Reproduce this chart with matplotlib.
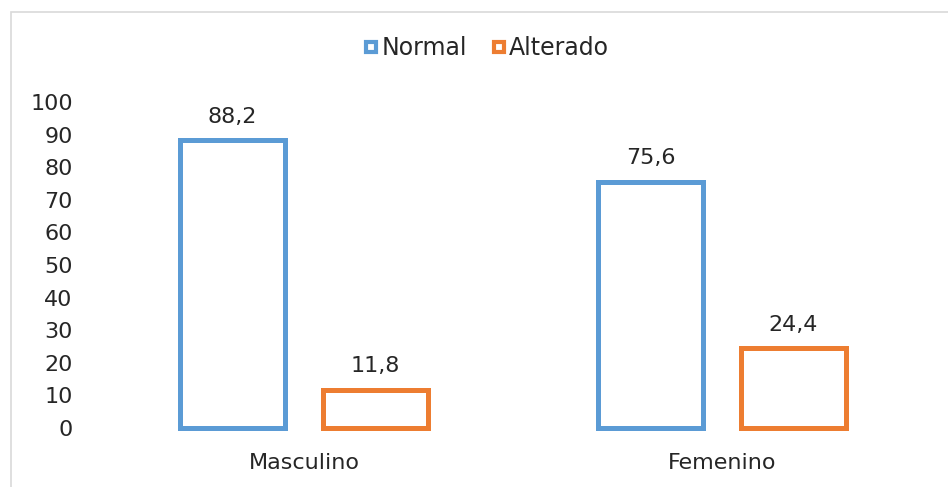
import matplotlib
matplotlib.use("Agg")
import matplotlib.pyplot as plt
import numpy as np
from matplotlib.lines import Line2D
from matplotlib.patches import Rectangle

categories = ["Masculino", "Femenino"]
normal = [88.2, 75.6]
alterado = [11.8, 24.4]
series_names = ["Normal", "Alterado"]
yticks = [0, 10, 20, 30, 40, 50, 60, 70, 80, 90, 100]

BLUE = "#5B9BD5"
ORANGE = "#ED7D31"
TXT = "#262626"

plt.rcParams["font.family"] = ["DejaVu Sans"]
plt.rcParams["font.size"] = 16

fig = plt.figure(figsize=(9.48, 4.87), dpi=100)
fig.patches.append(Rectangle((11 / 948, -0.1), 1.1, (487 - 12) / 487 + 0.1,
                             transform=fig.transFigure, fill=False,
                             edgecolor="#D9D9D9", lw=1.2, zorder=0))

ax = fig.add_axes([95 / 948, 59 / 487, 836 / 948, 326 / 487])

x = np.arange(len(categories))
width = 0.25
off = 0.171

for vals, col, dx in [(normal, BLUE, -off), (alterado, ORANGE, off)]:
    ax.bar(x + dx, vals, width, facecolor="white", edgecolor=col,
           linewidth=3.6, clip_on=False)
    for xi, v in zip(x + dx, vals):
        ax.annotate(f"{v:.1f}".replace(".", ","), (xi, v),
                    xytext=(0, 17), textcoords="offset points",
                    ha="center", va="center", color=TXT)

ax.set_xlim(-0.5, len(categories) - 0.5)
ax.set_ylim(0, 100)
ax.set_yticks(yticks)
ax.set_xticks(x)
ax.set_xticklabels(categories)
ax.tick_params(axis="y", length=0, pad=16, colors=TXT)
ax.tick_params(axis="x", length=0, pad=18, colors=TXT)
for s in ax.spines.values():
    s.set_visible(False)

handles = [Line2D([], [], ls="none", marker="s", markersize=6.5,
                  markerfacecolor="white", markeredgecolor=c,
                  markeredgewidth=3)
           for c in (BLUE, ORANGE)]
fig.legend(handles, series_names, loc="center", ncol=2,
           bbox_to_anchor=(487 / 948, 1 - 48 / 487), frameon=False,
           handlelength=0.5, handletextpad=0.2, columnspacing=1.1,
           fontsize=17, labelcolor=TXT)

fig.savefig("out.png", dpi=100)
